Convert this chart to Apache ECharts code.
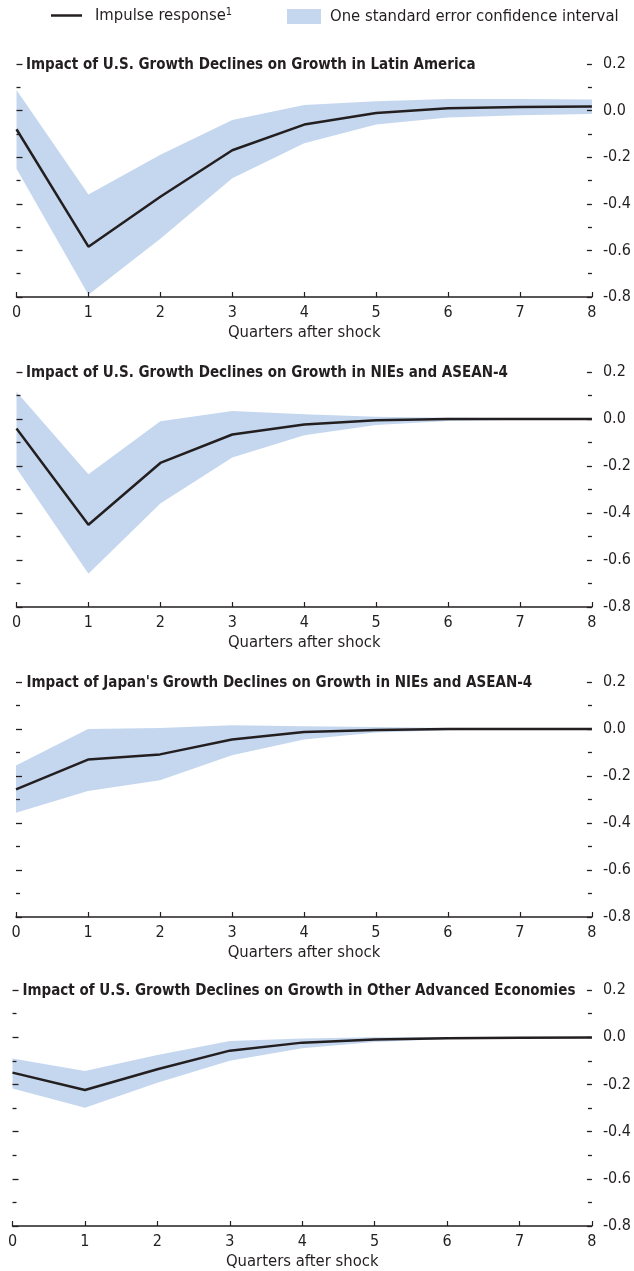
<!DOCTYPE html>
<html><head><meta charset="utf-8">
<script src="https://cdn.jsdelivr.net/npm/echarts@6/dist/echarts.min.js"></script>
<style>html,body{margin:0;padding:0;background:#fff}#c{width:634px;height:1271px}</style>
</head><body><div id="c"></div>
<script>
const quarters = [0,1,2,3,4,5,6,7,8];
const yTicks = [-0.8,-0.6,-0.4,-0.2,0.0,0.2];
const titles = [
  "Impact of U.S. Growth Declines on Growth in Latin America",
  "Impact of U.S. Growth Declines on Growth in NIEs and ASEAN-4",
  "Impact of Japan's Growth Declines on Growth in NIEs and ASEAN-4",
  "Impact of U.S. Growth Declines on Growth in Other Advanced Economies"
];
// Panel 1: Latin America
const resp1  = [-0.08,-0.584,-0.37,-0.17,-0.06,-0.01,0.01,0.015,0.018];
const upper1 = [0.088,-0.36,-0.19,-0.04,0.024,0.04,0.05,0.05,0.048];
const lower1 = [-0.25,-0.79,-0.55,-0.29,-0.14,-0.06,-0.03,-0.02,-0.015];
// Panel 2: US -> NIEs and ASEAN-4
const resp2  = [-0.04,-0.45,-0.187,-0.066,-0.023,-0.005,0.0,0.0,0.0];
const upper2 = [0.116,-0.235,-0.01,0.034,0.02,0.01,0.005,0.003,0.003];
const lower2 = [-0.21,-0.658,-0.36,-0.164,-0.069,-0.025,-0.008,-0.003,-0.002];
// Panel 3: Japan -> NIEs and ASEAN-4
const resp3  = [-0.257,-0.13,-0.108,-0.045,-0.013,-0.004,0.0,0.0,0.0];
const upper3 = [-0.155,0.0,0.004,0.016,0.012,0.008,0.004,0.002,0.002];
const lower3 = [-0.356,-0.264,-0.218,-0.112,-0.045,-0.015,-0.005,-0.002,-0.001];
// Panel 4: US -> Other advanced economies
const resp4  = [-0.15,-0.224,-0.136,-0.057,-0.023,-0.01,-0.004,-0.002,-0.001];
const upper4 = [-0.09,-0.143,-0.075,-0.016,-0.005,0.0,0.0,0.0,0.0];
const lower4 = [-0.217,-0.299,-0.193,-0.1,-0.047,-0.02,-0.008,-0.004,-0.003];

const panels = [
  {resp:resp1, upper:upper1, lower:lower1},
  {resp:resp2, upper:upper2, lower:lower2},
  {resp:resp3, upper:upper3, lower:lower3},
  {resp:resp4, upper:upper4, lower:lower4}
];
const layout = [
  {left:16.5, right:39, top:64, height:233, titleLeft:26, titleTop:58},
  {left:16.5, right:39, top:372, height:235, titleLeft:26, titleTop:366},
  {left:16, right:39, top:682, height:235, titleLeft:26.5, titleTop:676},
  {left:12.5, right:40, top:990, height:236, titleLeft:22.5, titleTop:984}
];
const FONT = '"Liberation Sans Narrow","DejaVu Sans Condensed",sans-serif';
const INK = '#231f20';
const BAND = '#c5d7ef';
const BAND_NAME = 'One standard error confidence interval';
const LINE_NAME = 'Impulse response';

function bandRenderer(params, api){
  if (params.dataIndexInside !== 0) return null;
  const n = params.dataInsideLength;
  const top = [], bot = [];
  for (let k = 0; k < n; k++){
    const x = api.value(0, k);
    top.push(api.coord([x, api.value(2, k)]));
    bot.push(api.coord([x, api.value(1, k)]));
  }
  return {type:'polygon', shape:{points: top.concat(bot.reverse())},
    style:{fill:BAND, stroke:null}};
}

const grid=[], xAxis=[], yAxis=[], series=[], title=[];
panels.forEach((p,i)=>{
  const L = layout[i];
  grid.push({left:L.left, right:L.right, top:L.top, height:L.height});
  title.push({text:titles[i], left:L.titleLeft, top:L.titleTop, padding:0,
    textStyle:{fontFamily:FONT, fontWeight:'bold', fontSize:15, color:INK}});
  xAxis.push({type:'value', gridIndex:i, min:0, max:8, interval:1, z:5,
    name:'Quarters after shock', nameLocation:'middle', nameGap:27,
    nameTextStyle:{fontFamily:FONT, fontSize:16.5, color:INK},
    axisLine:{show:true, onZero:false, lineStyle:{color:INK, width:1.5}},
    axisTick:{show:true, inside:true, length:5, lineStyle:{color:INK, width:1.2}},
    axisLabel:{fontFamily:FONT, fontSize:16, color:INK, margin:8},
    splitLine:{show:false}});
  const yBase = {type:'value', gridIndex:i, min:-0.8, max:0.2, interval:0.2, z:5,
    splitLine:{show:false}};
  yAxis.push(Object.assign({}, yBase, {position:'right',
    axisLine:{show:false, onZero:false},
    axisTick:{show:true, inside:true, length:5, lineStyle:{color:INK, width:1.3}},
    minorTick:{show:true, splitNumber:2, length:4, lineStyle:{color:INK, width:1.3}},
    axisLabel:{show:true, fontFamily:FONT, fontSize:16, color:INK, margin:11,
      formatter:v=>yTicks.some(t=>Math.abs(t-v)<1e-9)?v.toFixed(1):''}}));
  yAxis.push(Object.assign({}, yBase, {position:'left',
    axisLine:{show:false, onZero:false},
    axisTick:{show:true, inside:true, length:6, lineStyle:{color:INK, width:1.3}},
    minorTick:{show:true, splitNumber:2, length:4, lineStyle:{color:INK, width:1.3}},
    axisLabel:{show:false}}));
  series.push({type:'custom', name:BAND_NAME, xAxisIndex:i, yAxisIndex:2*i,
    data:quarters.map((q,k)=>[q,p.lower[k],p.upper[k]]),
    encode:{x:0, y:[1,2]}, renderItem:bandRenderer,
    itemStyle:{color:BAND}, silent:true, z:1});
  series.push({type:'line', name:LINE_NAME, xAxisIndex:i, yAxisIndex:2*i,
    data:quarters.map((q,k)=>[q,p.resp[k]]), symbol:'none', showSymbol:false,
    lineStyle:{color:INK, width:2.5}, itemStyle:{color:INK}, z:3});
});

const chart = echarts.init(document.getElementById('c'), null, {renderer:'canvas'});
chart.setOption({
  animation:false,
  title:title,
  legend:[
    {data:[{name:LINE_NAME, icon:'rect'}], left:51, top:7, padding:0,
     itemWidth:31, itemHeight:2.5, itemGap:0, selectedMode:false,
     formatter:n=>'{a|'+n+'}{s|1}',
     textStyle:{fontFamily:FONT, fontSize:16.5, color:INK,
       rich:{a:{fontFamily:FONT, fontSize:16.5, color:INK, padding:[0,0,0,8]},
             s:{fontFamily:FONT, fontSize:11, color:INK, verticalAlign:'top', padding:[0,0,6,0]}}}},
    {data:[{name:BAND_NAME, icon:'rect'}], left:287, top:8, padding:0,
     itemWidth:34, itemHeight:15, selectedMode:false,
     formatter:n=>'{a|'+n+'}',
     textStyle:{fontFamily:FONT, fontSize:16.5, color:INK,
       rich:{a:{fontFamily:FONT, fontSize:16.5, color:INK, padding:[0,0,0,4]}}}}
  ],
  grid:grid, xAxis:xAxis, yAxis:yAxis, series:series
});
</script></body></html>
